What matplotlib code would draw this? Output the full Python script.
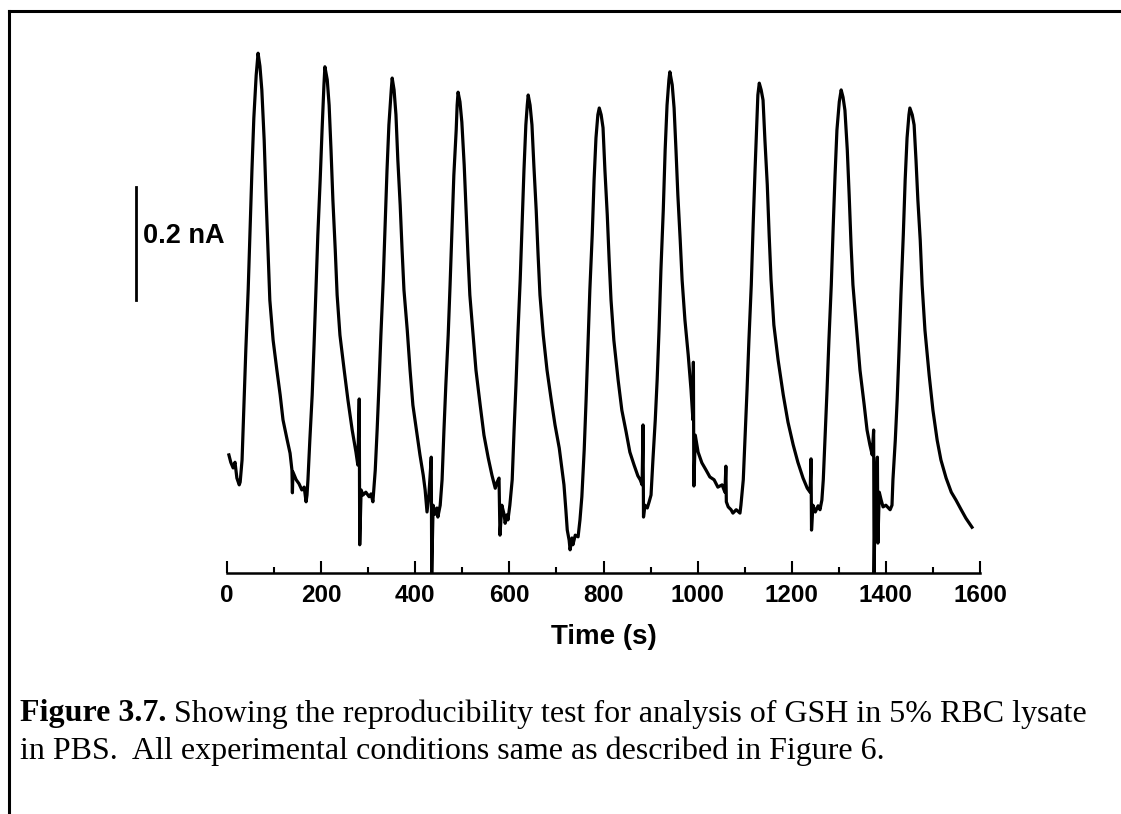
import matplotlib.pyplot as plt
from matplotlib.lines import Line2D
from matplotlib.ticker import MultipleLocator

# trace: time (s) and current (nA, relative to the axis line)
time_s = [
    4, 8, 13, 17, 21, 26, 28,
    32, 36, 40, 45, 49, 53, 57, 62, 66, 70, 74, 79, 83, 87, 91, 98, 106, 113,
    119, 128, 134, 138, 139, 140, 147, 153, 159, 164, 168, 170,
    172, 176, 181, 185, 189, 193, 198, 202, 206, 208, 213, 217, 221, 225, 230,
    234, 240, 249, 257, 266, 274, 278, 281, 282, 285, 289, 295, 302, 306, 310,
    315, 319, 323, 327, 332, 336, 340, 344, 349, 351, 355, 359, 363, 368, 372,
    376, 383, 389, 395, 404, 410, 417, 421, 425, 429, 434, 435, 438, 442, 446,
    448, 453,
    457, 461, 465, 470, 474, 478, 482, 487, 489, 491, 495, 499, 504, 508, 512,
    516, 523, 529, 538, 546, 555, 563, 570, 574, 578, 580, 584, 589, 591, 595,
    597, 601,
    606, 610, 614, 618, 623, 627, 631, 635, 638, 640, 644, 648, 652, 657, 661,
    665, 672, 680, 689, 697, 706, 712, 716, 720, 723, 727, 729, 733, 735, 740,
    746, 750,
    754, 759, 763, 767, 771, 776, 780, 784, 788, 791, 795, 799, 803, 808, 812,
    816, 822, 831, 839, 848, 856, 865, 873, 878, 882, 884, 885, 888, 893, 897,
    901, 905,
    910, 914, 918, 922, 927, 931, 935, 939, 941, 946, 950, 954, 958, 963, 967,
    973, 980, 986, 990, 991, 992, 995, 1001, 1009, 1018, 1026, 1035, 1043, 1052,
    1058, 1060, 1061, 1065, 1071, 1075, 1082, 1090, 1092,
    1097, 1101, 1105, 1109, 1114, 1118, 1122, 1126, 1128, 1131, 1135, 1139, 1143,
    1148, 1152, 1156, 1162, 1171, 1182, 1192, 1203, 1213, 1224, 1233, 1239, 1241,
    1242, 1245, 1250, 1256, 1260, 1264,
    1267, 1271, 1275, 1279, 1284, 1288, 1292, 1296, 1301, 1305, 1309, 1313, 1318,
    1322, 1326, 1330, 1337, 1345, 1354, 1360, 1366, 1371, 1374, 1375, 1378, 1381,
    1382, 1383, 1386, 1390, 1394, 1400, 1409, 1413,
    1415, 1420, 1424, 1428, 1432, 1437, 1441, 1445, 1449, 1451, 1456, 1460, 1464,
    1468, 1473, 1477, 1483, 1492, 1500, 1509, 1517, 1528, 1539, 1549, 1560, 1570,
    1583]
current_nA = [
    0.209, 0.196, 0.186, 0.196, 0.168, 0.156, 0.161,
    0.200, 0.297, 0.395, 0.501, 0.607, 0.713, 0.805, 0.881, 0.920, 0.897, 0.855,
    0.766, 0.665, 0.572, 0.483, 0.412, 0.359, 0.315,
    0.271, 0.235, 0.212, 0.182, 0.142, 0.179, 0.165, 0.158, 0.147, 0.152, 0.126,
    0.138,
    0.165, 0.235, 0.315, 0.404, 0.501, 0.598, 0.696, 0.784, 0.864, 0.896, 0.873,
    0.828, 0.749, 0.660, 0.572,
    0.492, 0.421, 0.359, 0.306, 0.253, 0.214, 0.191, 0.308, 0.050, 0.147, 0.138,
    0.143, 0.135, 0.140, 0.126,
    0.182, 0.253, 0.333, 0.421, 0.519, 0.616, 0.713, 0.793, 0.855, 0.876, 0.855,
    0.811, 0.731, 0.651, 0.572,
    0.501, 0.430, 0.359, 0.297, 0.244, 0.209, 0.173, 0.147, 0.108, 0.138, 0.205,
    0.000, 0.120, 0.104, 0.115,
    0.099, 0.120,
    0.165, 0.253, 0.333, 0.421, 0.510, 0.607, 0.704, 0.784, 0.828, 0.851, 0.834,
    0.798, 0.722, 0.642, 0.563,
    0.492, 0.421, 0.359, 0.297, 0.244, 0.204, 0.173, 0.150, 0.161, 0.168, 0.067,
    0.120, 0.103, 0.088, 0.103,
    0.094, 0.120,
    0.165, 0.253, 0.333, 0.421, 0.519, 0.616, 0.713, 0.793, 0.828, 0.846, 0.828,
    0.793, 0.722, 0.642, 0.563,
    0.492, 0.421, 0.359, 0.306, 0.262, 0.221, 0.182, 0.156, 0.112, 0.076, 0.058,
    0.041, 0.062, 0.050, 0.067,
    0.064, 0.094,
    0.135, 0.218, 0.306, 0.404, 0.501, 0.598, 0.696, 0.770, 0.811, 0.823, 0.811,
    0.788, 0.713, 0.634, 0.554,
    0.483, 0.412, 0.342, 0.288, 0.250, 0.214, 0.191, 0.172, 0.165, 0.156, 0.262,
    0.099, 0.120, 0.115, 0.126,
    0.138, 0.200,
    0.271, 0.342, 0.430, 0.536, 0.642, 0.749, 0.828, 0.873, 0.887, 0.864, 0.823,
    0.749, 0.669, 0.589, 0.519,
    0.448, 0.386, 0.324, 0.271, 0.373, 0.154, 0.244, 0.214, 0.195, 0.182, 0.170,
    0.165, 0.152, 0.156,
    0.143, 0.189, 0.126, 0.117, 0.112, 0.106, 0.112, 0.106, 0.120,
    0.165, 0.244, 0.324, 0.412, 0.510, 0.616, 0.713, 0.802, 0.846, 0.867, 0.855,
    0.837, 0.766,
    0.687, 0.598, 0.519, 0.439, 0.377, 0.315, 0.267, 0.227, 0.196, 0.168, 0.150,
    0.143, 0.202,
    0.076, 0.120, 0.108, 0.119, 0.112, 0.129,
    0.165, 0.244, 0.324, 0.412, 0.510, 0.611, 0.704, 0.784, 0.834, 0.855, 0.842,
    0.819, 0.749,
    0.669, 0.581, 0.510, 0.439, 0.359, 0.297, 0.253, 0.227, 0.209, 0.253, 0.000,
    0.182, 0.191,
    0.205, 0.053, 0.143, 0.129, 0.117, 0.120, 0.112, 0.120,
    0.165, 0.235, 0.306, 0.395, 0.492, 0.598, 0.696, 0.770, 0.811, 0.823, 0.811,
    0.793, 0.731,
    0.660, 0.589, 0.510, 0.430, 0.350, 0.288, 0.235, 0.200, 0.168, 0.143, 0.129,
    0.112, 0.097,
    0.081]

# scale bar: 0.2 nA, drawn left of the trace
bar_t = -193
bar_lo = 0.483
bar_len = 0.2

caption1_bold = "Figure 3.7."
caption1 = " Showing the reproducibility test for analysis of GSH in 5% RBC lysate"
caption2 = "in PBS.  All experimental conditions same as described in Figure 6."

W, H = 1121, 814
fig = plt.figure(figsize=(W / 100, H / 100), dpi=100)

ax_bottom = 573
ymax = 0.96
px_per_nA = 565
ax = fig.add_axes([227 / W, (H - ax_bottom) / H, 753 / W, ymax * px_per_nA / H])
ax.plot(time_s, current_nA, color='black', lw=2.3, solid_joinstyle='round')
ax.set_xlim(0, 1600)
ax.set_ylim(0, ymax)

for s in ['left', 'right', 'top']:
    ax.spines[s].set_visible(False)
ax.spines['bottom'].set_linewidth(1.8)
ax.set_yticks([])
ax.xaxis.set_major_locator(MultipleLocator(200))
ax.xaxis.set_minor_locator(MultipleLocator(100))
ax.tick_params(axis='x', which='major', direction='in', length=9, width=1.5, pad=8)
ax.tick_params(axis='x', which='minor', direction='in', length=4.5, width=1.5)

sans = 'Liberation Sans'
for lab in ax.get_xticklabels():
    lab.set_family(sans)
    lab.set_fontweight('bold')
    lab.set_fontsize(17.5)
ax.set_xlabel('Time (s)', family=sans, fontweight='bold', fontsize=20, labelpad=12)

# scale bar
ax.plot([bar_t, bar_t], [bar_lo, bar_lo + bar_len], color='black', lw=2.0, clip_on=False)
ax.text(bar_t + 14, bar_lo + bar_len * 0.57, '0.2 nA', family=sans, fontweight='bold',
        fontsize=19.5, va='center', ha='left', clip_on=False)

# caption
t1 = fig.text(20 / W, 1 - 714 / H, caption1_bold, family='Liberation Serif',
              fontweight='bold', fontsize=23, va='center')
fig.canvas.draw()
bb = t1.get_window_extent()
fig.text(bb.x1 / W, 1 - 714 / H, caption1, family='Liberation Serif', fontsize=23, va='center')
fig.text(20 / W, 1 - 751 / H, caption2, family='Liberation Serif', fontsize=23, va='center')

# frame round the figure (left and top edges)
fig.add_artist(Line2D([9 / W, 9 / W], [0, 1 - 11 / H], color='black', lw=2.2))
fig.add_artist(Line2D([9 / W, 1], [1 - 11 / H, 1 - 11 / H], color='black', lw=2.2))

fig.savefig('out.png', dpi=100)
